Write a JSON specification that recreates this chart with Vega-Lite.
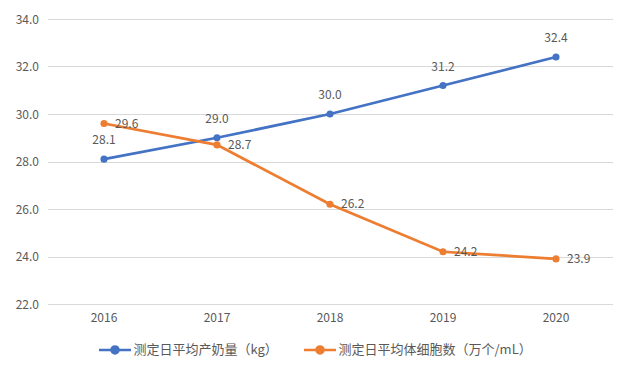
{
  "$schema": "https://vega.github.io/schema/vega-lite/v6.json",
  "autosize": {"type": "none"},
  "width": 565,
  "height": 285,
  "padding": {"left": 47.5, "top": 19, "right": 22.5, "bottom": 68},
  "background": "white",
  "config": {
    "font": "Noto Sans CJK SC",
    "view": {"stroke": null},
    "axis": {"labelColor": "#595959", "labelFontSize": 12, "labelFont": "Noto Sans CJK SC"}
  },
  "data": {
    "values": [
      {"year": "2016", "series": "测定日平均产奶量（kg）", "value": 28.1},
      {"year": "2017", "series": "测定日平均产奶量（kg）", "value": 29.0},
      {"year": "2018", "series": "测定日平均产奶量（kg）", "value": 30.0},
      {"year": "2019", "series": "测定日平均产奶量（kg）", "value": 31.2},
      {"year": "2020", "series": "测定日平均产奶量（kg）", "value": 32.4},
      {"year": "2016", "series": "测定日平均体细胞数（万个/mL）", "value": 29.6},
      {"year": "2017", "series": "测定日平均体细胞数（万个/mL）", "value": 28.7},
      {"year": "2018", "series": "测定日平均体细胞数（万个/mL）", "value": 26.2},
      {"year": "2019", "series": "测定日平均体细胞数（万个/mL）", "value": 24.2},
      {"year": "2020", "series": "测定日平均体细胞数（万个/mL）", "value": 23.9}
    ]
  },
  "encoding": {
    "x": {
      "field": "year", "type": "ordinal", "title": null,
      "scale": {"type": "band", "paddingInner": 0, "paddingOuter": 0},
      "axis": {"labelAngle": 0, "domain": false, "ticks": false, "labelPadding": 8}
    },
    "y": {
      "field": "value", "type": "quantitative", "title": null,
      "scale": {"domain": [22, 34], "nice": false, "zero": false},
      "axis": {"values": [22, 24, 26, 28, 30, 32, 34], "format": ".1f", "domain": false, "ticks": false, "gridColor": "#d9d9d9", "gridWidth": 1, "labelPadding": 9}
    }
  },
  "layer": [
    {
      "mark": {"type": "line", "strokeWidth": 2.75},
      "encoding": {
        "color": {
          "field": "series", "type": "nominal", "title": null,
          "scale": {"domain": ["测定日平均产奶量（kg）", "测定日平均体细胞数（万个/mL）"], "range": ["#4472C4", "#ED7D31"]},
          "legend": {
            "orient": "none", "direction": "horizontal", "legendX": 50, "legendY": 313,
            "symbolType": "M-1,0L1,0M-0.22,0A0.22,0.22,0,1,1,0.22,0A0.22,0.22,0,1,1,-0.22,0",
            "symbolSize": 1024, "symbolStrokeWidth": 2.5,
            "labelFontSize": 13, "labelColor": "#595959", "labelLimit": 400,
            "columnPadding": 20, "labelOffset": 1
          }
        }
      }
    },
    {
      "mark": {"type": "point", "filled": true, "size": 50, "opacity": 1},
      "encoding": {"color": {"field": "series", "type": "nominal"}}
    },
    {
      "transform": [{"filter": "datum.series === '测定日平均产奶量（kg）'"}],
      "mark": {"type": "text", "dy": -19, "fontSize": 12, "color": "#595959"},
      "encoding": {"text": {"field": "value", "type": "quantitative", "format": ".1f"}}
    },
    {
      "transform": [{"filter": "datum.series === '测定日平均体细胞数（万个/mL）'"}],
      "mark": {"type": "text", "dx": 11, "align": "left", "fontSize": 12, "color": "#595959"},
      "encoding": {"text": {"field": "value", "type": "quantitative", "format": ".1f"}}
    }
  ]
}
